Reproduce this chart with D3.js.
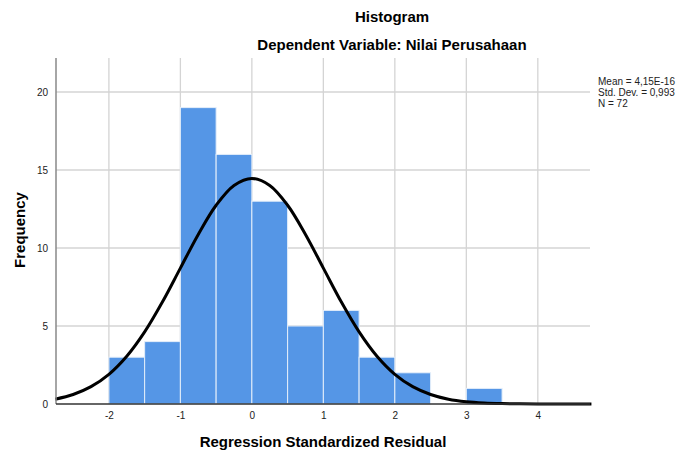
<!DOCTYPE html>
<html>
<head>
<meta charset="utf-8">
<script src="https://cdn.jsdelivr.net/npm/d3@7"></script>
<style>
  body { margin: 0; background: #fff; }
  text { font-family: "Liberation Sans", Arial, sans-serif; }
</style>
</head>
<body>
<div id="chart"></div>
<script>
  // Data

  var binStarts = [-2, -1.5, -1, -0.5, 0, 0.5, 1, 1.5, 2, 2.5, 3];
  var binWidth = 0.5;
  var counts = [3, 4, 19, 16, 13, 5, 6, 3, 2, 0, 1];

  // normal curve heights sampled every 0.25 along x
  var curveX = [-2.75, -2.5, -2.25, -2, -1.75, -1.5, -1.25, -1, -0.75, -0.5, -0.25, 0,
                0.25, 0.5, 0.75, 1, 1.25, 1.5, 1.75, 2, 2.25, 2.5, 2.75, 3, 3.25, 3.5, 3.75, 4, 4.25, 4.5, 4.75];
  var curveY = [0.31, 0.61, 1.11, 1.90, 3.06, 4.62, 6.55, 8.71, 10.87, 12.74, 14.01, 14.46,
                14.01, 12.74, 10.87, 8.71, 6.55, 4.62, 3.06, 1.90, 1.11, 0.61, 0.31, 0.15, 0.07, 0.03, 0.01, 0, 0, 0, 0];

  var xTicks = [-2, -1, 0, 1, 2, 3, 4];
  var yTicks = [0, 5, 10, 15, 20];
  var statLines = ["Mean = 4,15E-16", "Std. Dev. = 0,993", "N = 72"];

  var width = 676, height = 452;
  var plot = {left: 56, right: 590, top: 58, bottom: 404};

  var svg = d3.select("#chart")
      .append("svg")
      .attr("width", width)
      .attr("height", height);

  var xScale = d3.scaleLinear()
      .domain([-2.74, 4.73])
      .range([plot.left, plot.right]);

  var yScale = d3.scaleLinear()
      .domain([0, 20])
      .range([plot.bottom, 92]);

  // gridlines
  svg.append("g")
      .selectAll("line")
      .data(yTicks.slice(1))
      .enter().append("line")
      .attr("x1", plot.left).attr("x2", plot.right)
      .attr("y1", d => yScale(d)).attr("y2", d => yScale(d))
      .attr("stroke", "#d4d4d4")
      .attr("stroke-width", 1.3);

  svg.append("g")
      .selectAll("line")
      .data(xTicks)
      .enter().append("line")
      .attr("x1", d => xScale(d)).attr("x2", d => xScale(d))
      .attr("y1", plot.top).attr("y2", plot.bottom)
      .attr("stroke", "#d4d4d4")
      .attr("stroke-width", 1.3);

  // bars
  svg.append("g")
      .selectAll("rect")
      .data(binStarts.map((b, i) => ({x0: b, n: counts[i]})).filter(d => d.n > 0))
      .enter().append("rect")
      .attr("x", d => xScale(d.x0))
      .attr("y", d => yScale(d.n))
      .attr("width", d => xScale(d.x0 + binWidth) - xScale(d.x0))
      .attr("height", d => plot.bottom - yScale(d.n))
      .attr("fill", "#5596e6")
      .attr("stroke", "#e4eefa")
      .attr("stroke-width", 1);

  // normal curve
  var line = d3.line()
      .x(d => xScale(d[0]))
      .y(d => yScale(d[1]))
      .curve(d3.curveCatmullRom);

  svg.append("path")
      .datum(curveX.map((x, i) => [x, curveY[i]]))
      .attr("d", line)
      .attr("fill", "none")
      .attr("stroke", "#000")
      .attr("stroke-width", 3);

  // axes
  var yAxis = svg.append("g")
      .attr("transform", `translate(${plot.left}, 0)`)
      .call(d3.axisLeft(yScale).tickValues(yTicks).tickFormat(d => String(d)).tickSize(0).tickPadding(8));
  yAxis.select(".domain").remove();
  yAxis.selectAll("text").attr("font-size", "10px").attr("fill", "#222")
      .style("font-family", "'Liberation Sans', Arial, sans-serif");

  var xAxis = svg.append("g")
      .attr("transform", `translate(0, ${plot.bottom})`)
      .call(d3.axisBottom(xScale).tickValues(xTicks).tickFormat(d => String(d)).tickSize(0).tickPadding(8));
  xAxis.select(".domain").remove();
  xAxis.selectAll("text").attr("font-size", "10px").attr("fill", "#222")
      .style("font-family", "'Liberation Sans', Arial, sans-serif");

  svg.append("line")
      .attr("x1", plot.left).attr("x2", plot.left)
      .attr("y1", plot.top).attr("y2", plot.bottom)
      .attr("stroke", "#888").attr("stroke-width", 1.5);

  svg.append("line")
      .attr("x1", plot.left).attr("x2", plot.right)
      .attr("y1", plot.bottom).attr("y2", plot.bottom)
      .attr("stroke", "#333").attr("stroke-width", 1.5);

  // titles and labels
  svg.append("text")
      .attr("x", 392).attr("y", 22)
      .attr("text-anchor", "middle")
      .attr("font-size", "15px").attr("font-weight", "bold")
      .text("Histogram");

  svg.append("text")
      .attr("x", 392).attr("y", 50)
      .attr("text-anchor", "middle")
      .attr("font-size", "15px").attr("font-weight", "bold")
      .text("Dependent Variable: Nilai Perusahaan");

  svg.append("text")
      .attr("x", 323).attr("y", 447)
      .attr("text-anchor", "middle")
      .attr("font-size", "15px").attr("font-weight", "bold")
      .text("Regression Standardized Residual");

  svg.append("text")
      .attr("transform", "translate(25, 230) rotate(-90)")
      .attr("text-anchor", "middle")
      .attr("font-size", "15px").attr("font-weight", "bold")
      .text("Frequency");

  svg.append("g")
      .selectAll("text")
      .data(statLines)
      .enter().append("text")
      .attr("x", 598)
      .attr("y", (d, i) => 85 + i * 11)
      .attr("font-size", "10px")
      .attr("fill", "#222")
      .text(d => d);
</script>
</body>
</html>
